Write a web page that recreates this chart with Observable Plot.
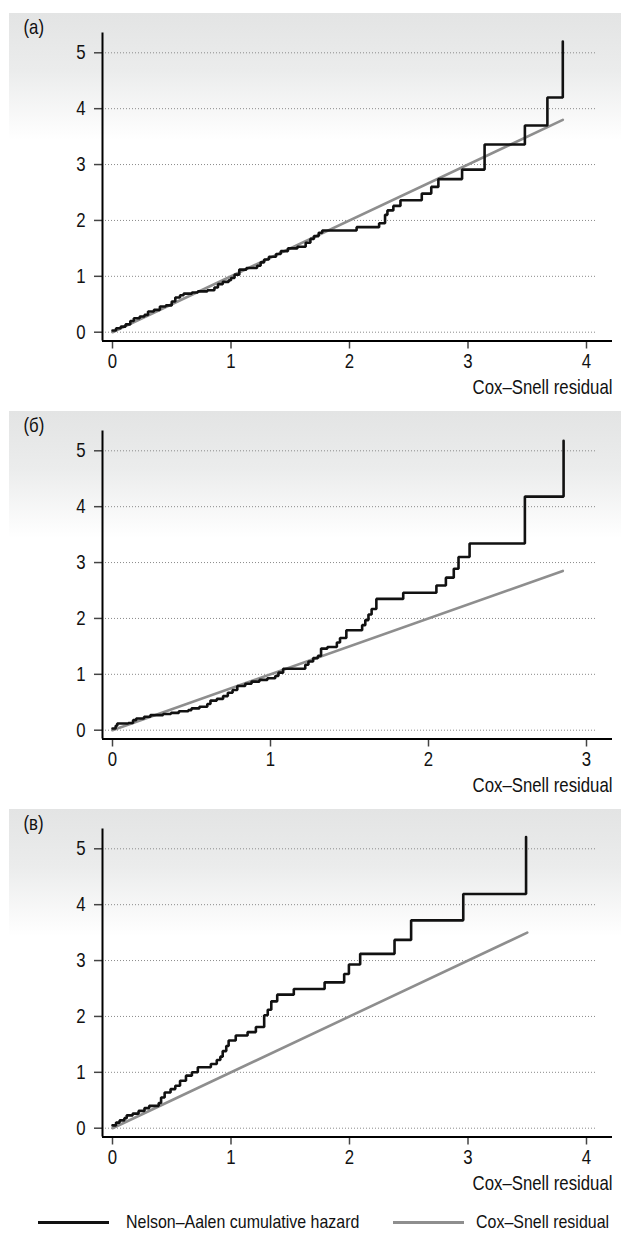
<!DOCTYPE html>
<html>
<head>
<meta charset="utf-8">
<script src="https://cdn.jsdelivr.net/npm/d3@7"></script>
<script src="https://cdn.jsdelivr.net/npm/@observablehq/plot@0.6"></script>
<style>
  html, body { margin: 0; padding: 0; background: #fff; }
  body { width: 621px; font-family: 'Liberation Sans', Arial, sans-serif; }
  .legend { position: relative; height: 42px; font-size: 19px; color: #111; }
  .legend .sw { position: absolute; top: 27px; height: 3px; }
  .legend .tx { position: absolute; top: 17px; line-height: 22px; white-space: nowrap; transform: scaleX(0.84); transform-origin: 0 50%; }
</style>
</head>
<body>
<div id="charts"></div>
<div class="legend">
  <div class="sw" style="left:38px;width:71px;background:#111"></div>
  <div class="tx" style="left:126px">Nelson–Aalen cumulative hazard</div>
  <div class="sw" style="left:393px;width:71px;background:#8e8e8e"></div>
  <div class="tx" style="left:476px">Cox–Snell residual</div>
</div>
<script>
// ---- data ----
const panelLabels = ["(a)", "(б)", "(в)"];
const xAxisLabel = "Cox–Snell residual";
const yTicks = [0, 1, 2, 3, 4, 5];
const xTicksA = [0, 1, 2, 3, 4];
const xTicksB = [0, 1, 2, 3];
const xTicksC = [0, 1, 2, 3, 4];

// Nelson–Aalen cumulative hazard (step points) vs Cox–Snell residual
const residA = [0, 0.03, 0.07, 0.11, 0.15, 0.18, 0.23, 0.27, 0.3, 0.35, 0.4, 0.45, 0.5, 0.53, 0.57, 0.6, 0.67, 0.72, 0.8, 0.86, 0.89, 0.93, 0.98, 1.0, 1.03, 1.07, 1.13, 1.22, 1.25, 1.28, 1.32, 1.38, 1.42, 1.48, 1.56, 1.63, 1.67, 1.7, 1.74, 1.77, 2.06, 2.25, 2.3, 2.32, 2.37, 2.43, 2.61, 2.69, 2.75, 2.95, 3.14, 3.48, 3.67, 3.8];
const hazA  = [0.03, 0.07, 0.1, 0.14, 0.2, 0.25, 0.28, 0.31, 0.37, 0.4, 0.46, 0.48, 0.55, 0.62, 0.66, 0.69, 0.71, 0.73, 0.75, 0.8, 0.86, 0.9, 0.93, 0.97, 1.03, 1.12, 1.15, 1.19, 1.25, 1.3, 1.35, 1.4, 1.45, 1.5, 1.53, 1.6, 1.67, 1.72, 1.78, 1.82, 1.88, 1.95, 2.1, 2.18, 2.26, 2.36, 2.48, 2.6, 2.74, 2.91, 3.36, 3.7, 4.2, 5.2];

const residB = [0, 0.02, 0.03, 0.1, 0.13, 0.15, 0.2, 0.24, 0.32, 0.37, 0.42, 0.48, 0.5, 0.55, 0.6, 0.62, 0.66, 0.7, 0.73, 0.76, 0.79, 0.84, 0.88, 0.93, 0.98, 1.03, 1.05, 1.08, 1.22, 1.24, 1.27, 1.3, 1.32, 1.36, 1.42, 1.44, 1.48, 1.58, 1.6, 1.62, 1.64, 1.67, 1.84, 2.05, 2.11, 2.16, 2.19, 2.26, 2.61, 2.855];
const hazB  = [0.03, 0.08, 0.12, 0.13, 0.18, 0.21, 0.24, 0.27, 0.29, 0.31, 0.34, 0.36, 0.39, 0.42, 0.47, 0.53, 0.56, 0.61, 0.67, 0.72, 0.79, 0.83, 0.87, 0.9, 0.93, 0.97, 1.03, 1.1, 1.17, 1.23, 1.29, 1.33, 1.46, 1.49, 1.57, 1.65, 1.79, 1.88, 1.97, 2.07, 2.17, 2.35, 2.46, 2.59, 2.73, 2.89, 3.1, 3.34, 4.18, 5.18];

const residC = [0, 0.03, 0.06, 0.1, 0.12, 0.17, 0.22, 0.27, 0.31, 0.39, 0.41, 0.44, 0.49, 0.53, 0.57, 0.62, 0.67, 0.72, 0.83, 0.88, 0.91, 0.93, 0.96, 0.98, 1.04, 1.14, 1.21, 1.28, 1.31, 1.34, 1.39, 1.53, 1.79, 1.955, 1.995, 2.09, 2.38, 2.52, 2.96, 3.49];
const hazC  = [0.05, 0.1, 0.14, 0.18, 0.23, 0.26, 0.31, 0.36, 0.4, 0.45, 0.55, 0.64, 0.7, 0.76, 0.85, 0.94, 1.0, 1.09, 1.15, 1.22, 1.28, 1.38, 1.47, 1.57, 1.66, 1.72, 1.81, 2.02, 2.12, 2.27, 2.39, 2.49, 2.61, 2.76, 2.93, 3.12, 3.37, 3.72, 4.19, 5.21];

// reference line (Cox–Snell residual) end points
const refMaxA = 3.8, refMaxB = 2.85, refMaxC = 3.5;

// ---- drawing ----
const FONT = "'Liberation Sans', Arial, sans-serif";
const SQUEEZE = 0.84; // emulate a condensed face
const W = 621, H = 398;
const mL = 102, mR = 9, mT = 32.5, mB = 57.5;

function bgMark(id) {
  return (index, scales, values, dims) => {
    const g = d3.create("svg:g");
    const grad = g.append("defs").append("linearGradient")
      .attr("id", id).attr("gradientUnits", "userSpaceOnUse")
      .attr("x1", 0).attr("x2", 0).attr("y1", 13).attr("y2", 140);
    grad.append("stop").attr("offset", 0).attr("stop-color", "#e3e4e4");
    grad.append("stop").attr("offset", 0.45).attr("stop-color", "#ebecec");
    grad.append("stop").attr("offset", 1).attr("stop-color", "#ffffff");
    g.append("rect").attr("x", 9).attr("y", 13)
      .attr("width", dims.width - 9).attr("height", dims.height - 13)
      .attr("fill", `url(#${id})`);
    return g.node();
  };
}

function panel(i, resid, haz, refMax, xTicks) {
  const xmax = xTicks[xTicks.length - 1];
  const inner = W - mL - mR;
  const unit = (inner - 36) / xmax;
  const xDom = [-10 / unit, xmax + 26 / unit];
  const gridEnd = xmax + 9 / unit;
  const yUnit = 55.88;
  const yDom = [-(8.8 / yUnit), 5 + 19.8 / yUnit];
  const steps = resid.map((r, k) => ({r, h: haz[k]}));
  const ref = [{r: 0, h: 0}, {r: refMax, h: refMax}];
  return Plot.plot({
    width: W, height: H,
    marginLeft: mL, marginRight: mR, marginTop: mT, marginBottom: mB,
    x: {domain: xDom, axis: null},
    y: {domain: yDom, axis: null},
    style: {fontFamily: FONT, background: "transparent", color: "#111"},
    marks: [
      bgMark("bg" + i),
      Plot.ruleY(yTicks, {y: d => d, x1: xDom[0], x2: gridEnd, stroke: "#8a8a8a", strokeWidth: 1, strokeDasharray: "1,2"}),
      Plot.axisY(yTicks, {anchor: "left", tickSize: 8, tickPadding: 9, fontSize: 20, stroke: "#444", strokeWidth: 1.5, tickFormat: d3.format("d"), label: null}),
      Plot.axisX(xTicks, {anchor: "bottom", tickSize: 8, tickPadding: 4.5, fontSize: 20, stroke: "#444", strokeWidth: 1.5, tickFormat: d3.format("d"), label: null}),
      Plot.ruleX([xDom[0]], {stroke: "#000", strokeWidth: 2}),
      Plot.ruleY([yDom[0]], {stroke: "#000", strokeWidth: 2}),
      Plot.line(ref, {x: "r", y: "h", stroke: "#8e8e8e", strokeWidth: 2.6}),
      Plot.line(steps, {x: "r", y: "h", curve: "step-after", stroke: "#111", strokeWidth: 2.6, strokeLinejoin: "miter"}),
      Plot.text([xAxisLabel], {frameAnchor: "bottom-right", textAnchor: "end", lineAnchor: "middle", dx: 0, dy: 47, fontSize: 20, fill: "#111"}),
      Plot.text([panelLabels[i]], {frameAnchor: "top-left", textAnchor: "start", lineAnchor: "middle", dx: 23 - mL, dy: -5, fontSize: 20, fill: "#111"})
    ]
  });
}

// squeeze every text horizontally about its anchor point (condensed look)
function condense(svg) {
  const NS = "http://www.w3.org/2000/svg";
  svg.querySelectorAll("text").forEach(t => {
    const r = t.getBoundingClientRect();
    if (!r.width) return;
    const anchor = getComputedStyle(t).textAnchor;
    const sx = anchor === "end" ? r.right : anchor === "middle" ? (r.left + r.right) / 2 : r.left;
    const p = svg.createSVGPoint();
    p.x = sx; p.y = (r.top + r.bottom) / 2;
    const local = p.matrixTransform(t.parentNode.getScreenCTM().inverse());
    const g = document.createElementNS(NS, "g");
    g.setAttribute("transform", `translate(${local.x},0) scale(${SQUEEZE},1) translate(${-local.x},0)`);
    t.parentNode.insertBefore(g, t);
    g.appendChild(t);
  });
}

const host = document.getElementById("charts");
[[residA, hazA, refMaxA, xTicksA], [residB, hazB, refMaxB, xTicksB], [residC, hazC, refMaxC, xTicksC]]
  .forEach(([r, h, m, t], i) => {
    const svg = panel(i, r, h, m, t);
    host.append(svg);
    condense(svg);
  });
</script>
</body>
</html>
